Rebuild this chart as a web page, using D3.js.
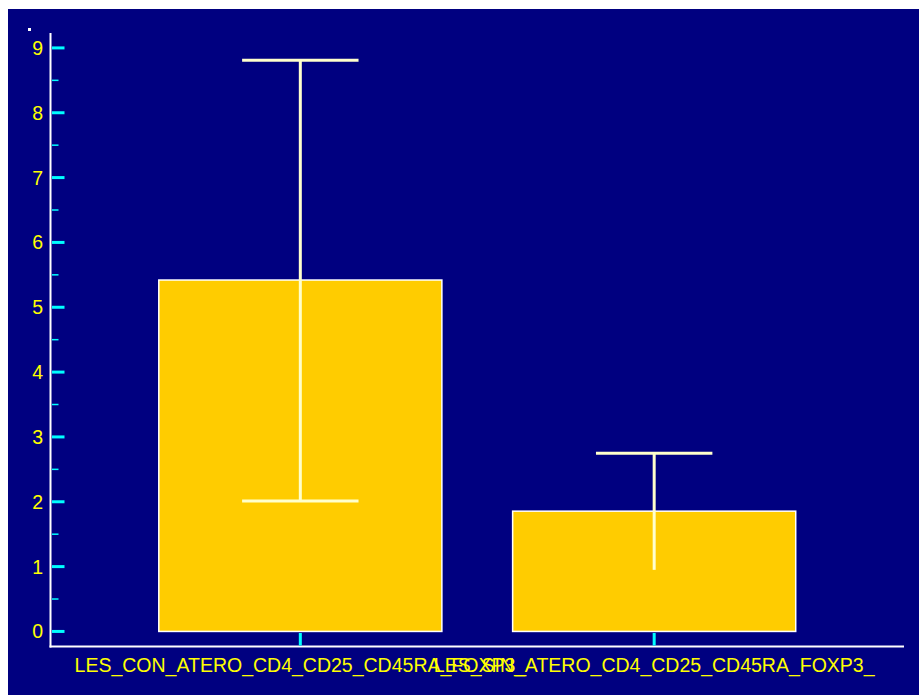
<!DOCTYPE html>
<html>
<head>
<meta charset="utf-8">
<script src="https://cdn.jsdelivr.net/npm/d3@7"></script>
<style>
  html, body { margin: 0; padding: 0; background: #ffffff; }
  svg { display: block; }
</style>
</head>
<body>
<div id="chart"></div>
<script>
const categories = ["LES_CON_ATERO_CD4_CD25_CD45RA_FOXP3_", "LES_SIN_ATERO_CD4_CD25_CD45RA_FOXP3_"];
const categoryPos = [1, 2];
const means = [5.42, 1.855];
const errUpper = [8.81, 2.75];
const errLower = [2.01, 0.95];
const lowerCapShown = [true, false];
const yMajorTicks = [0, 1, 2, 3, 4, 5, 6, 7, 8, 9];
const yMinorTicks = [0.5, 1.5, 2.5, 3.5, 4.5, 5.5, 6.5, 7.5, 8.5];

const W = 919, H = 695;
const svg = d3.select("#chart").append("svg").attr("width", W).attr("height", H);

// panel background
svg.append("rect").attr("x", 8).attr("y", 9).attr("width", W - 8).attr("height", H - 9).attr("fill", "#000080");
svg.append("rect").attr("x", 28).attr("y", 28).attr("width", 3).attr("height", 3).attr("fill", "#ffffff");

const x = d3.scaleLinear().domain([0.294, 2.706]).range([50.5, 904]);
const y = d3.scaleLinear().domain([-0.24, 9.23]).range([647, 33]);
const barW = x(1.4) - x(0.6);
const capHalf = (x(1.1645) - x(0.8355)) / 2;

// bars
svg.selectAll("rect.bar").data(means).join("rect")
  .attr("class", "bar")
  .attr("x", (d, i) => x(categoryPos[i]) - barW / 2)
  .attr("y", d => y(d))
  .attr("width", barW)
  .attr("height", d => y(0) - y(d))
  .attr("fill", "#FFCC00")
  .attr("stroke", "#ffffff")
  .attr("stroke-width", 1.5);

// error bars
const eb = svg.append("g").attr("stroke", "#FFFFCC").attr("stroke-width", 3);
eb.selectAll("line.v").data(means).join("line")
  .attr("x1", (d, i) => x(categoryPos[i])).attr("x2", (d, i) => x(categoryPos[i]))
  .attr("y1", (d, i) => y(errLower[i])).attr("y2", (d, i) => y(errUpper[i]));
eb.selectAll("line.top").data(errUpper).join("line")
  .attr("x1", (d, i) => x(categoryPos[i]) - capHalf).attr("x2", (d, i) => x(categoryPos[i]) + capHalf)
  .attr("y1", d => y(d)).attr("y2", d => y(d));
eb.selectAll("line.bot").data(errLower.filter((d, i) => lowerCapShown[i])).join("line")
  .attr("x1", (d, i) => x(categoryPos[i]) - capHalf).attr("x2", (d, i) => x(categoryPos[i]) + capHalf)
  .attr("y1", d => y(d)).attr("y2", d => y(d));

// y axis line
svg.append("line").attr("x1", 50.5).attr("x2", 50.5).attr("y1", 33).attr("y2", 647.5)
  .attr("stroke", "#ffffff").attr("stroke-width", 2);
// x axis line
svg.append("line").attr("x1", 49.5).attr("x2", 904).attr("y1", 646.5).attr("y2", 646.5)
  .attr("stroke", "#ffffff").attr("stroke-width", 2);

// y ticks
svg.selectAll("line.ymaj").data(yMajorTicks).join("line")
  .attr("x1", 52).attr("x2", 64.5)
  .attr("y1", d => y(d)).attr("y2", d => y(d))
  .attr("stroke", "#00FFFF").attr("stroke-width", 3);
svg.selectAll("line.ymin").data(yMinorTicks).join("line")
  .attr("x1", 52).attr("x2", 58.5)
  .attr("y1", d => y(d)).attr("y2", d => y(d))
  .attr("stroke", "#00FFFF").attr("stroke-width", 1.5);
svg.selectAll("text.ylab").data(yMajorTicks).join("text")
  .attr("x", 43).attr("y", d => y(d))
  .attr("text-anchor", "end").attr("dominant-baseline", "central")
  .attr("font-family", "Liberation Sans, Arial, sans-serif").attr("font-size", 19.5)
  .attr("fill", "#FFFF00")
  .text(d => d);

// x ticks
svg.selectAll("line.xt").data(categoryPos).join("line")
  .attr("x1", d => x(d)).attr("x2", d => x(d))
  .attr("y1", 633).attr("y2", 645.5)
  .attr("stroke", "#00FFFF").attr("stroke-width", 3);
svg.selectAll("text.xlab").data(categories).join("text")
  .attr("x", (d, i) => x(categoryPos[i])).attr("y", 672)
  .attr("text-anchor", "middle")
  .attr("font-family", "Liberation Sans, Arial, sans-serif").attr("font-size", 19.5)
  .attr("fill", "#FFFF00")
  .text(d => d);
</script>
</body>
</html>
